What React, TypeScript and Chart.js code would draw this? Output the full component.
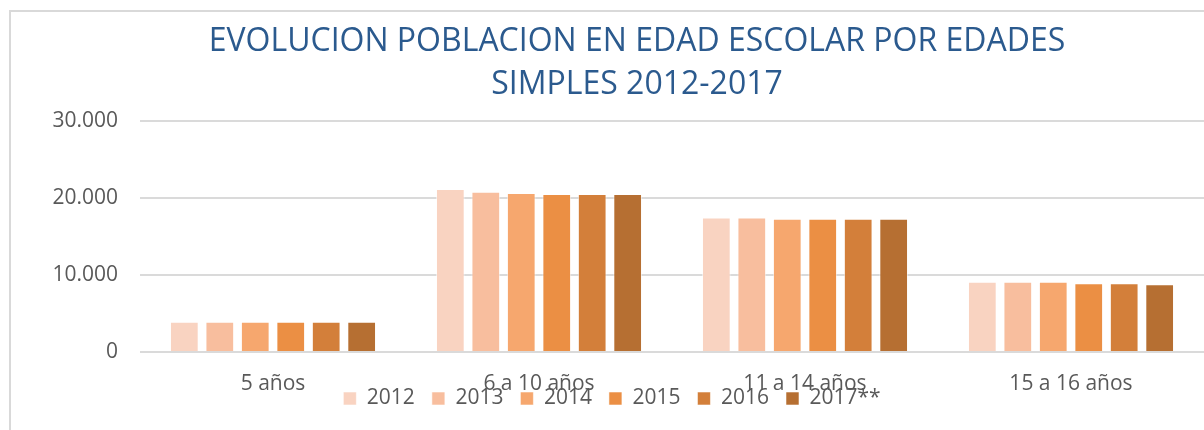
import React, { useEffect, useRef } from 'react';
import { Chart, registerables } from 'chart.js';

Chart.register(...registerables);

const categories = ['5 años', '6 a 10 años', '11 a 14 años', '15 a 16 años'];
const seriesNames = ['2012', '2013', '2014', '2015', '2016', '2017**'];
const values2012 = [3920, 21170, 17470, 9130];
const values2013 = [3920, 20820, 17470, 9130];
const values2014 = [3920, 20650, 17300, 9130];
const values2015 = [3920, 20520, 17300, 8920];
const values2016 = [3920, 20520, 17300, 8920];
const values2017 = [3920, 20520, 17300, 8790];
const seriesColors = ['#F9D3C1', '#F8BE9E', '#F6A76E', '#EB8F44', '#D37F3A', '#B66F32'];
const yMin = 0;
const yMax = 30000;
const yStep = 10000;
const titleLines = ['EVOLUCION POBLACION EN EDAD ESCOLAR POR EDADES', 'SIMPLES 2012-2017'];

const FONT = "'Open Sans', 'DejaVu Sans', sans-serif";
const TEXT_GRAY = '#595959';
const GRID = '#DADADA';

const fmt = (n: number) => String(n).replace(/\B(?=(\d{3})+(?!\d))/g, '.');

// Moves the legend so that it overlaps the category labels, as in the original.
const legendShift = {
  id: 'legendShift',
  afterLayout(chart: any) {
    const lg = chart.legend;
    if (!lg) return;
    const dy = -26;
    const dx = -25;
    lg.top += dy;
    lg.bottom += dy;
    lg.left += dx;
    lg.right += dx;
  },
};

export default function App() {
  const ref = useRef<HTMLCanvasElement | null>(null);

  useEffect(() => {
    if (!ref.current) return;
    const allValues = [values2012, values2013, values2014, values2015, values2016, values2017];
    const chart = new Chart(ref.current, {
      type: 'bar',
      data: {
        labels: categories,
        datasets: seriesNames.map((name, i) => ({
          label: name,
          data: allValues[i],
          backgroundColor: seriesColors[i],
          borderColor: 'rgba(255,255,255,0.55)',
          borderWidth: 1,
          yAxisID: 'y',
          xAxisID: 'x',
          categoryPercentage: 0.8,
          barPercentage: 0.81,
        })),
      },
      plugins: [legendShift],
      options: {
        responsive: false,
        animation: false,
        layout: { padding: 0 },
        plugins: {
          title: {
            display: true,
            text: titleLines,
            color: '#2B5A8E',
            font: { family: FONT, size: 32, weight: 'normal', lineHeight: 1.33 },
            padding: { top: 9, bottom: 15 },
          },
          legend: {
            display: true,
            position: 'bottom',
            labels: {
              color: TEXT_GRAY,
              font: { family: FONT, size: 21 },
              boxWidth: 13,
              boxHeight: 13,
              padding: 17,
            },
          },
          tooltip: { enabled: false },
        },
        scales: {
          x: {
            type: 'category',
            position: 'bottom',
            grid: { display: false, drawTicks: false },
            border: { display: false },
            ticks: { color: TEXT_GRAY, font: { family: FONT, size: 21 }, padding: 19, maxRotation: 0 },
            afterFit: (s: any) => { s.height = 45; },
          },
          y: {
            type: 'linear',
            position: 'left',
            min: yMin,
            max: yMax,
            grid: { color: GRID, lineWidth: 2, drawTicks: false },
            border: { display: false },
            ticks: {
              stepSize: yStep,
              color: TEXT_GRAY,
              font: { family: FONT, size: 21 },
              padding: 22,
              callback: (v: any) => fmt(Number(v)),
            },
            afterFit: (s: any) => { s.width = 129; },
          },
          yR: {
            type: 'linear',
            position: 'right',
            display: true,
            grid: { display: false, drawTicks: false },
            border: { display: false },
            ticks: { display: false },
            afterFit: (s: any) => { s.width = 59; },
          },
        },
      },
    } as any);
    return () => chart.destroy();
  }, []);

  return (
    <div style={{ position: 'fixed', left: 0, top: 0, width: 1204, height: 430, overflow: 'hidden', background: '#fff' }}>
      <div
        style={{
          position: 'absolute',
          left: 9,
          top: 10,
          width: 1254,
          height: 435,
          boxSizing: 'border-box',
          borderLeft: '2px solid #D9D9D9',
          borderTop: '2px solid #D9D9D9',
        }}
      >
        <canvas ref={ref} width={1252} height={433} style={{ display: 'block' }} />
      </div>
    </div>
  );
}
